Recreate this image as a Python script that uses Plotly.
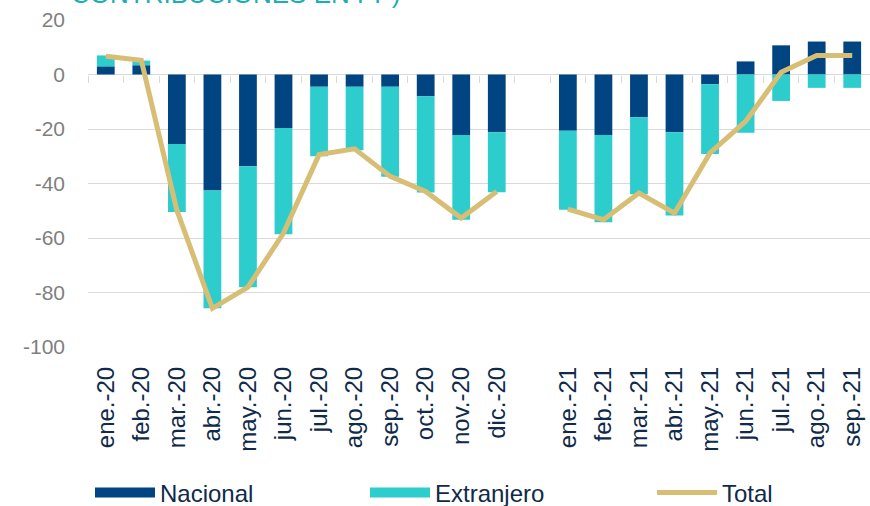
import plotly.graph_objects as go

categories = ["ene.-20", "feb.-20", "mar.-20", "abr.-20", "may.-20", "jun.-20",
              "jul.-20", "ago.-20", "sep.-20", "oct.-20", "nov.-20", "dic.-20",
              " ",
              "ene.-21", "feb.-21", "mar.-21", "abr.-21", "may.-21", "jun.-21",
              "jul.-21", "ago.-21", "sep.-21"]

nacional = [3.0, 3.4, -25.5, -42.6, -33.7, -19.6, -4.5, -4.5, -4.5, -8.0, -22.2, -21.2,
            None,
            -20.6, -22.2, -15.7, -21.2, -3.6, 4.8, 10.7, 12.1, 12.1]
extranjero = [4.0, 1.7, -25.0, -43.2, -44.4, -39.0, -25.5, -23.3, -33.0, -35.3, -31.1, -22.0,
              None,
              -29.0, -32.0, -28.2, -30.5, -25.6, -21.4, -9.7, -4.9, -4.9]
total = [6.7, 5.2, -49.8, -85.8, -78.0, -58.2, -29.4, -27.3, -37.4, -42.9, -52.7, -42.9,
         None,
         -49.4, -53.3, -43.5, -50.9, -28.8, -17.2, 0.8, 7.0, 7.0]

y_ticks = [20, 0, -20, -40, -60, -80, -100]

C_NAC = "#004481"
C_EXT = "#2DCCCD"
C_TOT = "#D8BE75"
FONT = "Liberation Sans, Arial, sans-serif"
LEG_FONT = dict(size=24, color="#0F2A4A", family=FONT)

fig = go.Figure()
fig.add_trace(go.Bar(x=categories, y=nacional, name="Nacional", legendgroup="nac",
                     showlegend=False, marker=dict(color=C_NAC, line=dict(width=0))))
fig.add_trace(go.Bar(x=categories, y=extranjero, name="Extranjero", legendgroup="ext",
                     showlegend=False, marker=dict(color=C_EXT, line=dict(width=0))))
fig.add_trace(go.Scatter(x=categories, y=total, name="Total", mode="lines",
                         xaxis="x2", legend="legend3",
                         line=dict(color=C_TOT, width=5), connectgaps=False))
# legend keys (wide rectangular swatches like the original)
fig.add_trace(go.Scatter(x=[None], y=[None], name="Nacional", mode="lines",
                         legendgroup="nac", legend="legend",
                         line=dict(color=C_NAC, width=12)))
fig.add_trace(go.Scatter(x=[None], y=[None], name="Extranjero", mode="lines",
                         legendgroup="ext", legend="legend2",
                         line=dict(color=C_EXT, width=12)))

leg_common = dict(orientation="h", yref="container", y=13 / 506, yanchor="middle",
                  xanchor="left", font=LEG_FONT, itemwidth=60,
                  bgcolor="rgba(0,0,0,0)", borderwidth=0)

fig.update_layout(
    width=870, height=506,
    margin=dict(l=88, r=0, t=20, b=159, autoexpand=False),
    paper_bgcolor="white", plot_bgcolor="white",
    barmode="relative", bargap=0.5,
    font=dict(family=FONT),
    xaxis=dict(type="category", categoryorder="array", categoryarray=categories,
               tickangle=-90, tickfont=dict(size=24, color="#0F2A4A", family=FONT),
               showgrid=False, showline=False, zeroline=False, ticks="",
               ticklabelstandoff=14, automargin=False),
    xaxis2=dict(type="category", categoryorder="array", categoryarray=categories,
                overlaying="x", matches="x", anchor="free", position=100 / 120,
                side="bottom", showticklabels=False, showgrid=False, showline=False,
                ticks="outside", ticklen=7, tickcolor="#D9D9D9", tickson="boundaries",
                automargin=False),
    yaxis=dict(range=[-100, 20], tickvals=y_ticks, ticktext=[str(v) for v in y_ticks],
               tickfont=dict(size=21, color="#7F7F7F", family=FONT),
               showgrid=True, gridcolor="#D9D9D9", gridwidth=1,
               zeroline=True, zerolinecolor="#D9D9D9", zerolinewidth=1,
               showline=False, ticks="", ticklabelstandoff=22, automargin=False),
    legend=dict(x=(90 - 88) / 782, **leg_common),
    legend2=dict(x=(365 - 88) / 782, **leg_common),
    legend3=dict(x=(652 - 88) / 782, **leg_common),
    showlegend=True,
)

fig.add_annotation(text="CONTRIBUCIONES EN PP)", xref="paper", yref="paper",
                   x=(69 - 88) / 782, y=1 + 9 / 327, xanchor="left", yanchor="bottom",
                   showarrow=False, font=dict(size=26, color="#1AAFB0", family=FONT))

fig.write_html("out.html", config={"displayModeBar": False},
               post_script="document.body.style.margin='0';document.body.style.overflow='hidden';")
